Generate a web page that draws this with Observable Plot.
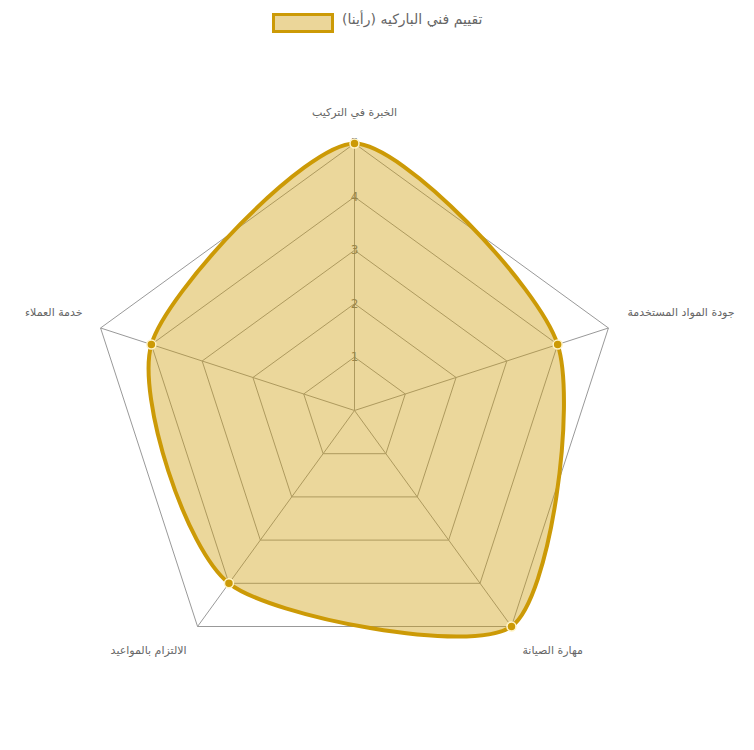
<!DOCTYPE html>
<html lang="ar">
<head>
<meta charset="utf-8">
<script src="https://cdn.jsdelivr.net/npm/d3@7"></script>
<script src="https://cdn.jsdelivr.net/npm/@observablehq/plot@0.6"></script>
<style>
  html, body { margin: 0; padding: 0; background: #fff; }
  #legend { height: 44px; width: 754px; position: relative; font-family: "DejaVu Sans", sans-serif; }
  #legend .box { position: absolute; left: 272px; top: 13px; width: 56px; height: 14px; border: 3px solid #cc9a06; background: #ebd699; }
  #legend .lbl { position: absolute; left: 342px; top: 11px; font-size: 14px; color: #666; white-space: nowrap; direction: rtl; }
</style>
</head>
<body>
<div id="legend"><div class="box"></div><div class="lbl">تقييم فني الباركيه (رأينا)</div></div>
<div id="chart"></div>
<script>
const categories = ["الخبرة في التركيب", "جودة المواد المستخدمة", "مهارة الصيانة", "الالتزام بالمواعيد", "خدمة العملاء"];
const values = [5, 4, 5, 4, 4];
const seriesName = "تقييم فني الباركيه (رأينا)";
const ticks = [1, 2, 3, 4, 5];
const maxValue = 5;

const W = 754, H = 706;
const cx = 354, cy = 366, pxPerUnit = 53.4;
const n = categories.length;
const ang = i => -Math.PI / 2 + i * 2 * Math.PI / n;
const px = (i, r) => r * Math.cos(ang(i));
const py = (i, r) => -r * Math.sin(ang(i));

// grid pentagons
const gridRings = [];
for (const t of ticks) {
  for (let i = 0; i <= n; i++) gridRings.push({ring: t, x: px(i % n, t), y: py(i % n, t)});
}
const spokes = categories.map((c, i) => ({x1: 0, y1: 0, x2: px(i, maxValue), y2: py(i, maxValue)}));
const tickLabels = ticks.map(t => ({t, x: 0, y: t}));
const pts = categories.map((c, i) => ({cat: c, v: values[i], x: px(i, values[i]), y: py(i, values[i])}));

// label offsets (pixels) relative to the outer vertex
const labels = categories.map((c, i) => {
  const co = Math.cos(ang(i));
  let anchor, dxp, dyp;
  if (Math.abs(co) < 0.01) { anchor = "middle"; dxp = 0; dyp = -31; }
  else if (co > 0) { anchor = "start"; dxp = co > 0.7 ? 19 : 11; dyp = co > 0.7 ? -16 : 24; }
  else { anchor = "end"; dxp = co < -0.7 ? -18 : -11; dyp = co < -0.7 ? -16 : 24; }
  return {cat: c, anchor, x: px(i, maxValue) + dxp / pxPerUnit, y: py(i, maxValue) - dyp / pxPerUnit};
});

const xDomain = [-cx / pxPerUnit, (W - cx) / pxPerUnit];
const yDomain = [-(H - cy) / pxPerUnit, cy / pxPerUnit];

const textFont = {fontSize: 11, fill: "#666"};

const chart = Plot.plot({
  width: W, height: H,
  margin: 0,
  x: {domain: xDomain, range: [0, W], axis: null},
  y: {domain: yDomain, range: [H, 0], axis: null},
  style: {fontFamily: "'DejaVu Sans', sans-serif", background: "#fff"},
  marks: [
    Plot.line(gridRings, {x: "x", y: "y", z: "ring", stroke: "#999", strokeWidth: 1}),
    Plot.link(spokes, {x1: "x1", y1: "y1", x2: "x2", y2: "y2", stroke: "#999", strokeWidth: 1}),
    Plot.text(tickLabels, {x: "x", y: "y", text: d => String(d.t), fill: "#777", fontSize: 12}),
    Plot.line(pts, {x: "x", y: "y", curve: "cardinal-closed", tension: 0.28, fill: "rgba(204,154,6,0.4)", stroke: "#cc9a06", strokeWidth: 4}),
    Plot.dot(pts, {x: "x", y: "y", r: 4.5, fill: "#cc9a06", stroke: "#fff4c8", strokeWidth: 1.5}),
    ...["start", "middle", "end"].map(a =>
      Plot.text(labels.filter(d => d.anchor === a), {x: "x", y: "y", text: "cat", textAnchor: a, ...textFont})
    )
  ]
});
document.getElementById("chart").appendChild(chart);
</script>
</body>
</html>
